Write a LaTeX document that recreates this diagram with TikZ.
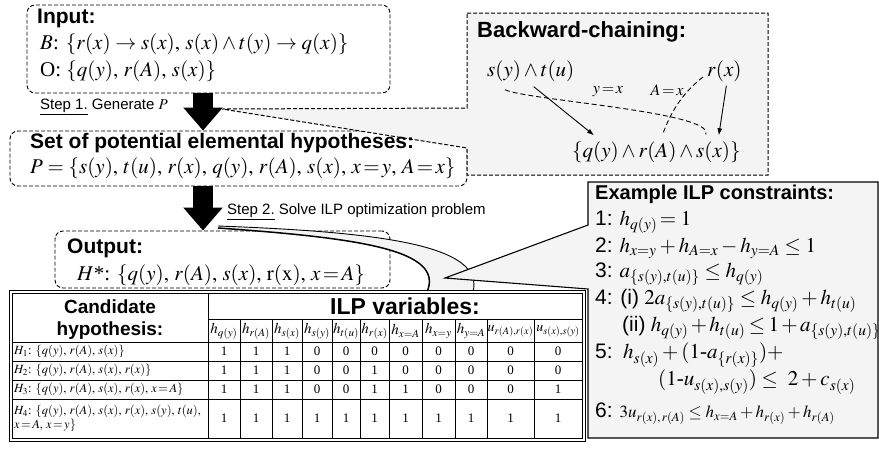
\documentclass[tikz,border=0pt]{standalone}
\usepackage{mathptmx}
\usepackage{fontspec}
\setmainfont{Liberation Serif}
\setsansfont{Liberation Sans}
\usepackage{tikz}
\usetikzlibrary{arrows.meta,positioning,calc}

\newcommand{\fsz}[1]{\fontsize{#1}{#1}\selectfont}
\AtBeginDocument{\mathcode`\,="002C}

\begin{document}
\begin{tikzpicture}[x=1pt,y=-1pt]
	\tikzstyle{Panel}	= [draw, dash pattern=on 4pt off 2pt, rounded corners=8pt, fill=white, line width=0.9pt, inner sep=0pt]
	\tikzstyle{Title}	= [anchor=west, inner sep=0pt, font=\sffamily\bfseries\fsz{21}]
	\tikzstyle{Formula}	= [anchor=west, inner sep=0pt, font=\fsz{21}]
	\tikzstyle{StepLbl}	= [anchor=west, inner sep=0pt, font=\sffamily\fsz{15}]
	\tikzstyle{BigArrow}	= [line width=20pt, -{Triangle[length=23pt,width=38pt]}]
	\tikzstyle{Callout}	= [draw=black, fill=gray!9, line width=1pt]
	\tikzstyle{Link}	= [line width=0.9pt]
	\tikzstyle{Unify}	= [line width=0.9pt, dash pattern=on 5pt off 3pt]
	\tikzstyle{Cell}	= [inner sep=0pt, font=\fsz{13}]
	\tikzstyle{RowLbl}	= [inner sep=0pt, anchor=west, font=\fsz{12.5}]
	\tikzstyle{Constr}	= [anchor=west, inner sep=0pt, font=\fsz{21}]

	\useasboundingbox (0,0) rectangle (879,448);

	% boxes of the pipeline
	\node (input) [Panel, minimum width=363pt, minimum height=88pt] at (208.5,49) {};
	\node (setbox) [Panel, minimum width=457pt, minimum height=55pt] at (238.5,158.5) {};
	\node (output) [Panel, minimum width=335pt, minimum height=57pt] at (222.5,259.5) {};
	\coordinate (spine) at (203,0);

	% backward-chaining callout
	\coordinate (bctip) at (222,109);
	\draw [Callout, dash pattern=on 4pt off 2pt] (467,13) -- (768,13) -- (768,175) -- (467,175) -- (467,148) -- (bctip) -- (467,108) -- cycle;

	\node (bcttl) [Title, font=\sffamily\bfseries\fsz{22}] at (477,32) {Backward-chaining:};
	\node (bsy) [Formula] at (487,71) {$s(y) \wedge t(u)$};
	\node (brx) [Formula] at (707,71) {$r(x)$};
	\node (bobs) [Formula] at (572,152) {$\{q(y) \wedge r(A) \wedge s(x)\}$};
	\node (lyx) [inner sep=0pt, font=\fsz{16}] at (608,92) {$y\!=\!x$};
	\node (lax) [inner sep=0pt, font=\fsz{16}] at (667,90) {$A\!=\!x$};

	\draw [Link, -{Latex[length=7pt,width=5pt]}] ($(bsy.south)+(3,5)$) to ($(bobs.north west)+(22,-6)$);
	\draw [Link, -{Latex[length=7pt,width=5pt]}] ($(brx.south)+(2,4)$) to ($(bobs.north east)+(-22,-6)$);
	\draw [Unify] ($(bsy.south west)+(18,8)$) .. controls (525,100) and (715,112) .. ($(bobs.north east)+(-35,-7)$);
	\draw [Unify] ($(brx.west)+(-4,6)$) .. controls (680,95) and (670,115) .. ($(bobs.north)+(7,-9)$);

	% lens from step 2 into the table
	\coordinate (lensA) at (218,226);
	\coordinate (lensB) at (218,228);
	\coordinate (lensC) at (473,292);
	\coordinate (lensD) at (427,292);
	\fill [gray!9] (lensA) .. controls (380,232) and (485,245) .. (lensC) -- (lensD) .. controls (445,250) and (360,238) .. (lensB) -- cycle;
	\draw [line width=0.9pt] (lensA) .. controls (380,232) and (485,245) .. (lensC);
	\draw [line width=1.5pt] (lensB) .. controls (360,238) and (445,250) .. (lensD);

	% table
	\draw [line width=0.8pt, fill=white] (9,290) rectangle (585,441);
	\draw [line width=0.6pt] (12,293) rectangle (582,438);
	\draw [line width=0.5pt] (208,319) -- (582,319);
	\foreach \ry in {342,361,380,399}
		\draw [line width=0.5pt] (12,\ry) -- (582,\ry);
	\draw [line width=0.5pt] (208,293) -- (208,438);
	\foreach \cx in {240,272,302,332,360,389,422,455,487,534}
		\draw [line width=0.5pt] (\cx,319) -- (\cx,438);

	\node (cand) [inner sep=0pt, font=\sffamily\bfseries\fsz{19}] at (110,307) {Candidate};
	\node (hypo) [inner sep=0pt, font=\sffamily\bfseries\fsz{19}] at (110,331) {hypothesis:};
	\node (ilpv) [inner sep=0pt, font=\sffamily\bfseries\fsz{23}] at (405,306) {ILP variables:};

	\foreach \cx/\lbl/\fs [count=\i] in {224/h_{q(y)}/15, 256/h_{r(A)}/15, 287/h_{s(x)}/15, 317/h_{s(y)}/15, 346/h_{t(u)}/15, 374.5/h_{r(x)}/15, 405.5/h_{x=A}/15, 438.5/h_{x=y}/15, 471/h_{y=A}/15, 510.5/u_{r(A),r(x)}/14, 558/u_{s(x),s(y)}/14}
		\node (hd\i) [inner sep=0pt, font=\fsz{\fs}] at (\cx,331) {$\lbl$};

	\def\colx{{224,256,287,317,346,374.5,405.5,438.5,471,510.5,558}}
	\foreach \ry/\vals [count=\r] in {351.5/{1,1,1,0,0,0,0,0,0,0,0}, 370.5/{1,1,1,0,0,1,0,0,0,0,0}, 389.5/{1,1,1,0,0,1,1,0,0,0,1}, 418.5/{1,1,1,1,1,1,1,1,1,1,1}}
		\foreach \v [count=\c] in \vals {
			\pgfmathsetmacro{\cx}{\colx[\c-1]}
			\node (v\r-\c) [Cell] at (\cx,\ry) {\v};
		}

	\node (H1) [RowLbl] at (14,351.5) {$H_1$: $\{q(y),\ r(A),\ s(x)\}$};
	\node (H2) [RowLbl] at (14,370.5) {$H_2$: $\{q(y),\ r(A),\ s(x),\ r(x)\}$};
	\node (H3) [RowLbl] at (14,389.5) {$H_3$: $\{q(y),\ r(A),\ s(x),\ r(x),\ x\!=\!A\}$};
	\node (H4) [RowLbl, align=left] at (14,418.5) {$H_4$: $\{q(y),\ r(A),\ s(x),\ r(x),\ s(y),\ t(u),$\\[2pt]$x\!=\!A,\ x\!=\!y\}$};

	% ILP constraints callout
	\coordinate (ilptip) at (445,278);
	\draw [Callout, line width=1.1pt] (588,182) -- (878,182) -- (878,438) -- (588,438) -- (588,289) -- (ilptip) -- (588,225) -- cycle;

	\node (exttl) [Title, font=\sffamily\bfseries\fsz{20}] at (595,194) {Example ILP constraints:};
	\node (c1) [Constr] at (595,222) {{\sffamily 1:} $h_{q(y)}\!= 1$};
	\node (c2) [Constr] at (595,248) {{\sffamily 2:} $h_{x=y} + h_{A=x} - h_{y=A} \le 1$};
	\node (c3) [Constr] at (595,274) {{\sffamily 3:} $a_{\{s(y),t(u)\}} \le h_{q(y)}$};
	\node (c4a) [Constr] at (595,301) {{\sffamily 4: (i)} $2a_{\{s(y),t(u)\}} \le h_{q(y)} + h_{t(u)}$};
	\node (c4b) [Constr] at (622,328) {{\sffamily (ii)} $\medmuskip=2mu\thickmuskip=3mu h_{q(y)} + h_{t(u)} \le 1 + a_{\{s(y),t(u)\}}$};
	\node (c5a) [Constr] at (595,355) {{\sffamily 5:}\ \ $h_{s(x)} + (1\mbox{-}a_{\{r(x)\}}) +$};
	\node (c5b) [Constr] at (658,382) {$(1\mbox{-}u_{s(x),s(y)}) \le\ 2 + c_{s(x)}$};
	\node (c6) [Constr] at (595,414) {{\sffamily 6:} {\fsz{17}$3u_{r(x),\,r(A)} \le h_{x=A} + h_{r(x)} + h_{r(A)}$}};

	% texts of the pipeline
	\node (inttl) [Title] at (37,18) {Input:};
	\node (inB) [Formula] at (40,44) {$B$: $\{r(x) \rightarrow s(x),\ s(x) \wedge t(y) \rightarrow q(x)\}$};
	\node (inO) [Formula] at (40,71) {O: $\{q(y),\ r(A),\ s(x)\}$};
	\node (setttl) [Title] at (30,143) {Set of potential elemental hypotheses:};
	\node (setP) [Formula] at (30,168) {$P = \{s(y),\ t(u),\ r(x),\ q(y),\ r(A),\ s(x),\ x\!=\!y,\ A\!=\!x\}$};
	\node (outttl) [Title] at (67,248) {Output:};
	\node (outH) [Formula] at (77,275) {$H$*: $\{q(y),\ r(A),\ s(x),\ \mathrm{r(x)},\ x\!=\!A\}$};

	\node (step1) [StepLbl] at (40,107) {\underline{Step 1.} Generate $P$};
	\node (step2) [StepLbl] at (227,212) {\underline{Step 2.} Solve ILP optimization problem};

	\draw [BigArrow] (spine |- input.south) -- (spine |- setbox.north);
	\draw [BigArrow] (spine |- setbox.south) -- (spine |- output.north);
\end{tikzpicture}
\end{document}
